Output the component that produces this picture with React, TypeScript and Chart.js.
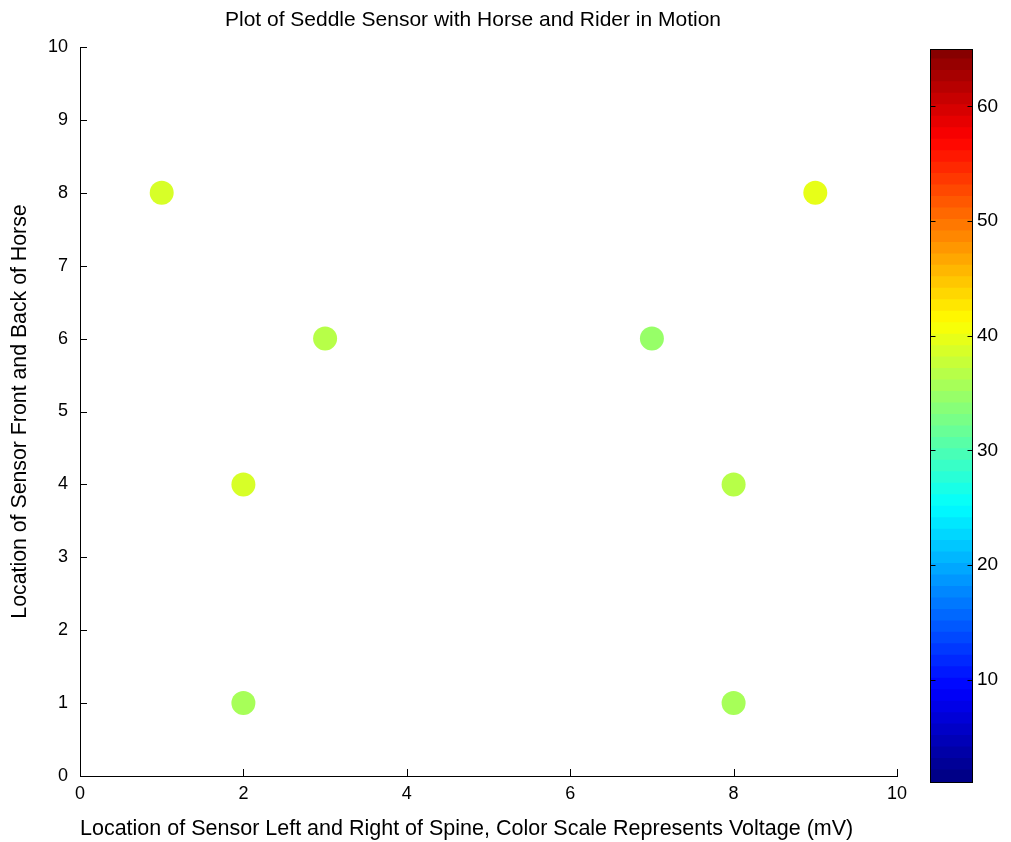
import React, { useEffect, useRef } from "react";
import { Chart, registerables } from "chart.js";

Chart.register(...registerables);

// ---- data ----
const sensorX: number[] = [1, 3, 7, 9, 2, 8, 2, 8];
const sensorY: number[] = [8, 6, 6, 8, 4, 4, 1, 1];
const voltage: number[] = [38, 36, 34, 39.5, 38, 36, 35, 35];

const xTicks: number[] = [0, 2, 4, 6, 8, 10];
const yTicks: number[] = [0, 1, 2, 3, 4, 5, 6, 7, 8, 9, 10];
const cbarTicks: number[] = [10, 20, 30, 40, 50, 60];
const CBAR_MIN = 1;
const CBAR_MAX = 65;
const CBAR_LEVELS = 64;

const TITLE = "Plot of Seddle Sensor with Horse and Rider in Motion";
const X_TITLE = "Location of Sensor Left and Right of Spine, Color Scale Represents Voltage (mV)";
const Y_TITLE = "Location of Sensor Front and Back of Horse";

const FONT = "'Liberation Sans', Arial, sans-serif";

function clamp01(v: number) {
  return Math.max(0, Math.min(1, v));
}
function jet(t: number): string {
  const r = clamp01(1.5 - Math.abs(4 * t - 3));
  const g = clamp01(1.5 - Math.abs(4 * t - 2));
  const b = clamp01(1.5 - Math.abs(4 * t - 1));
  return `rgb(${Math.round(r * 255)},${Math.round(g * 255)},${Math.round(b * 255)})`;
}
function levelIndex(v: number): number {
  const i = Math.floor(((v - CBAR_MIN) / (CBAR_MAX - CBAR_MIN)) * CBAR_LEVELS);
  return Math.max(0, Math.min(CBAR_LEVELS - 1, i));
}
function levelColor(i: number): string {
  return jet((i + 0.5) / CBAR_LEVELS);
}

const innerTicks = {
  id: "innerTicks",
  afterDraw(chart: any) {
    const { ctx, chartArea } = chart;
    const x = chart.scales.x;
    const y = chart.scales.y;
    ctx.save();
    ctx.strokeStyle = "#000";
    ctx.lineWidth = 1;
    ctx.beginPath();
    x.ticks.forEach((t: any) => {
      const px = Math.round(x.getPixelForValue(t.value)) + 0.5;
      ctx.moveTo(px, chartArea.bottom);
      ctx.lineTo(px, chartArea.bottom - 7);
    });
    y.ticks.forEach((t: any) => {
      const py = Math.round(y.getPixelForValue(t.value)) + 0.5;
      ctx.moveTo(chartArea.left, py);
      ctx.lineTo(chartArea.left + 7, py);
    });
    ctx.stroke();
    ctx.restore();
  },
};

const cbarFrame = {
  id: "cbarFrame",
  afterDraw(chart: any) {
    const { ctx, chartArea } = chart;
    const y = chart.scales.y;
    ctx.save();
    ctx.strokeStyle = "#000";
    ctx.lineWidth = 1;
    const l = Math.round(chartArea.left) + 0.5;
    const r = Math.round(chartArea.right) - 0.5;
    const t = Math.round(chartArea.top) + 0.5;
    const b = Math.round(chartArea.bottom) - 0.5;
    ctx.strokeRect(l, t, r - l, b - t);
    ctx.beginPath();
    y.ticks.forEach((tk: any) => {
      const py = Math.round(y.getPixelForValue(tk.value)) + 0.5;
      ctx.moveTo(l, py);
      ctx.lineTo(l + 5, py);
      ctx.moveTo(r, py);
      ctx.lineTo(r - 5, py);
    });
    ctx.stroke();
    ctx.restore();
  },
};

export default function App() {
  const mainRef = useRef<HTMLCanvasElement>(null);
  const barRef = useRef<HTMLCanvasElement>(null);

  useEffect(() => {
    const points = sensorX.map((x, i) => ({ x, y: sensorY[i] }));
    const colors = voltage.map((v) => levelColor(levelIndex(v)));

    const main = new Chart(mainRef.current!, {
      type: "scatter",
      data: {
        datasets: [
          {
            data: points,
            pointRadius: 12,
            pointHoverRadius: 12,
            pointBackgroundColor: colors,
            pointBorderWidth: 0,
            pointBorderColor: colors,
          },
        ],
      },
      options: {
        animation: false,
        responsive: false,
        devicePixelRatio: 1,
        layout: { padding: 0 },
        plugins: {
          legend: { display: false },
          tooltip: { enabled: false },
          title: {
            display: true,
            text: TITLE,
            color: "#000",
            font: { family: FONT, size: 21, weight: "normal", lineHeight: 1.2 },
            padding: { top: 8, bottom: 13.8 },
          },
        },
        scales: {
          x: {
            type: "linear",
            min: 0,
            max: 10,
            afterBuildTicks: (s: any) => {
              s.ticks = xTicks.map((v) => ({ value: v }));
            },
            afterFit: (s: any) => {
              s.height = 66;
            },
            grid: { display: false, drawTicks: false },
            border: { display: true, color: "#000", width: 1 },
            ticks: {
              color: "#000",
              padding: 7,
              maxRotation: 0,
              font: { family: FONT, size: 18 },
            },
            title: {
              display: true,
              text: X_TITLE,
              align: "start",
              color: "#000",
              font: { family: FONT, size: 21.5, lineHeight: 1.2 },
              padding: { top: 0, bottom: 0 },
            },
          },
          y: {
            type: "linear",
            min: 0,
            max: 10,
            afterBuildTicks: (s: any) => {
              s.ticks = yTicks.map((v) => ({ value: v }));
            },
            afterFit: (s: any) => {
              s.width = 80;
            },
            grid: { display: false, drawTicks: false },
            border: { display: true, color: "#000", width: 1 },
            ticks: {
              color: "#000",
              padding: 12,
              font: { family: FONT, size: 18 },
            },
            title: {
              display: true,
              text: Y_TITLE,
              color: "#000",
              font: { family: FONT, size: 21.3, lineHeight: 1.2 },
              padding: { top: 7, bottom: 0 },
            },
          },
          yPad: {
            type: "linear",
            position: "right",
            min: 0,
            max: 10,
            afterFit: (s: any) => {
              s.width = 49;
            },
            grid: { display: false, drawTicks: false },
            border: { display: false },
            ticks: { display: false },
          },
        },
      },
      plugins: [innerTicks],
    });

    const levels = Array.from({ length: CBAR_LEVELS }, (_, i) => i);
    const step = (CBAR_MAX - CBAR_MIN) / CBAR_LEVELS;
    const bar = new Chart(barRef.current!, {
      type: "bar",
      data: {
        labels: [""],
        datasets: levels.map((i) => ({
          data: [
            [
              Math.max(CBAR_MIN, CBAR_MIN + i * step - 0.15),
              Math.min(CBAR_MAX, CBAR_MIN + (i + 1) * step + 0.15),
            ] as any,
          ],
          backgroundColor: levelColor(i),
          borderWidth: 0,
          grouped: false,
          barPercentage: 1,
          categoryPercentage: 1,
        })),
      },
      options: {
        animation: false,
        responsive: false,
        devicePixelRatio: 1,
        layout: { padding: { left: 30, right: 0, top: 49, bottom: 59 } },
        plugins: { legend: { display: false }, tooltip: { enabled: false }, title: { display: false } },
        scales: {
          x: { display: false },
          y: {
            position: "right",
            min: CBAR_MIN,
            max: CBAR_MAX,
            afterBuildTicks: (s: any) => {
              s.ticks = cbarTicks.map((v) => ({ value: v }));
            },
            afterFit: (s: any) => {
              s.width = 38;
            },
            grid: { display: false, drawTicks: false },
            border: { display: false },
            ticks: {
              color: "#000",
              padding: 4,
              font: { family: FONT, size: 19 },
            },
          },
        },
      },
      plugins: [cbarFrame],
    });

    return () => {
      main.destroy();
      bar.destroy();
    };
  }, []);

  return (
    <div style={{ position: "absolute", left: 0, top: 0, width: 1011, height: 842, background: "#fff" }}>
      <canvas ref={mainRef} width={946} height={842} style={{ position: "absolute", left: 0, top: 0 }} />
      <canvas ref={barRef} width={111} height={842} style={{ position: "absolute", left: 900, top: 0 }} />
    </div>
  );
}
